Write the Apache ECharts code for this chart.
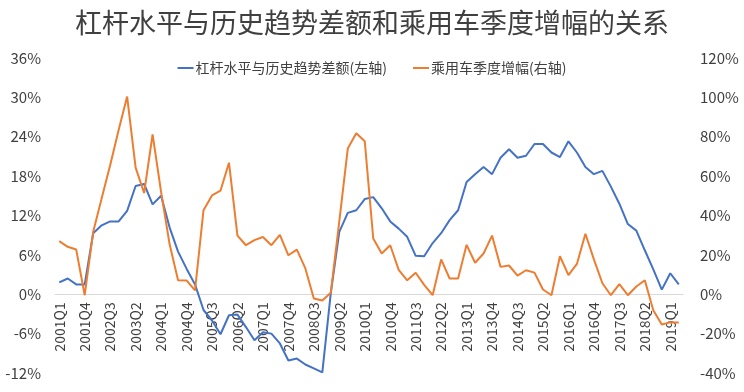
<!DOCTYPE html>
<html>
<head>
<meta charset="utf-8">
<script src="https://cdn.jsdelivr.net/npm/echarts@6/dist/echarts.min.js"></script>
<style>
html,body{margin:0;padding:0;background:#fff;}
#chart{width:744px;height:392px;}
</style>
</head>
<body>
<div id="chart"></div>
<script>
var years = [2001,2002,2003,2004,2005,2006,2007,2008,2009,2010,2011,2012,2013,2014,2015,2016,2017,2018,2019];
var quarters = ['Q1','Q2','Q3','Q4'];
var categories = [];
years.forEach(function(y){ quarters.forEach(function(q){ categories.push(y + q); }); });
categories = categories.slice(0, 74); // 2001Q1 .. 2019Q2

var leverageGap = [
  1.8, 2.4, 1.5, 1.5,
  9.3, 10.5, 11.1, 11.1,
  12.7, 16.5, 16.8, 13.7,
  15.0, 10.2, 6.5, 3.9,
  1.5, -2.4, -4.0, -6.1,
  -3.2, -3.1, -5.0, -7.0,
  -5.8, -6.0, -7.5, -10.1,
  -9.8, -10.7, -11.3, -11.9,
  0.2, 9.5, 12.4, 12.8,
  14.5, 14.8, 13.1, 11.1,
  10.0, 8.75, 5.85, 5.8,
  7.8, 9.3, 11.3, 12.8,
  17.1, 18.3, 19.4, 18.3,
  20.8, 22.1, 20.8, 21.1,
  22.9, 22.9, 21.6, 20.9,
  23.3, 21.6, 19.4, 18.3,
  18.8, 16.4, 13.8, 10.7,
  9.7, 6.7, 3.8, 0.7,
  3.2, 1.5
];

var carGrowth = [
  27.0, 24.1, 22.7, -0.5,
  31.7, 48.7, 65.5, 83.4,
  100.4, 64.3, 51.4, 81.2,
  52.0, 25.5, 7.1, 7.0,
  2.0, 42.7, 50.2, 52.6,
  66.8, 29.8, 24.9, 27.5,
  29.1, 24.9, 30.2, 19.8,
  22.7, 13.1, -2.2, -3.2,
  0.8, 37.0, 74.0, 81.8,
  77.7, 28.3, 20.7, 24.9,
  12.4, 7.1, 10.9, 4.8,
  -0.5, 17.7, 8.0, 8.0,
  25.1, 16.0, 20.7, 29.8,
  13.9, 14.6, 9.5, 12.2,
  11.0, 2.4, -0.5, 19.3,
  9.7, 15.4, 30.7, 17.7,
  5.6, -0.5, 5.1, -0.5,
  3.9, 7.1, -8.1, -15.4,
  -14.3, -14.3
];

var seriesNames = ['杠杆水平与历史趋势差额(左轴)', '乘用车季度增幅(右轴)'];
var titleText = '杠杆水平与历史趋势差额和乘用车季度增幅的关系';

var FONT = '"Noto Sans CJK SC", "Noto Sans", sans-serif';
var TXT = '#404040';

var GRID_TOP = 58, GRID_BOTTOM = 19, H = 392;
var LEFT_MIN = -12, LEFT_MAX = 36;
var plotH = H - GRID_TOP - GRID_BOTTOM;
var zeroOffset = -plotH * (0 - LEFT_MIN) / (LEFT_MAX - LEFT_MIN);

var chart = echarts.init(document.getElementById('chart'));
chart.setOption({
  animation: false,
  textStyle: { fontFamily: FONT },
  title: {
    text: titleText,
    left: 'center',
    top: 4,
    textStyle: { fontFamily: FONT, fontSize: 27, fontWeight: 'normal', color: TXT }
  },
  legend: {
    data: seriesNames,
    left: 'center',
    top: 56,
    icon: 'rect',
    itemWidth: 16,
    itemHeight: 2,
    itemGap: 26,
    textStyle: { fontFamily: FONT, fontSize: 14, color: TXT, padding: [0, 0, 0, -3] }
  },
  grid: { left: 55, right: 61, top: GRID_TOP, bottom: GRID_BOTTOM, containLabel: false, outerBoundsMode: 'none' },
  xAxis: {
    type: 'category',
    data: categories,
    boundaryGap: true,
    position: 'bottom',
    offset: zeroOffset,
    axisLine: { onZero: false, lineStyle: { color: '#D9D9D9', width: 1 } },
    axisTick: { show: false },
    axisLabel: {
      interval: 2,
      rotate: 90,
      margin: 8,
      fontSize: 14,
      color: TXT,
      fontFamily: FONT
    },
    splitLine: { show: false }
  },
  yAxis: [
    {
      type: 'value',
      min: LEFT_MIN, max: LEFT_MAX, interval: 6,
      axisLine: { show: false },
      axisTick: { show: false },
      splitLine: { show: false },
      axisLabel: { formatter: '{value}%', fontSize: 15, color: TXT, margin: 14, fontFamily: FONT }
    },
    {
      type: 'value',
      min: -40, max: 120, interval: 20,
      axisLine: { show: false },
      axisTick: { show: false },
      splitLine: { show: false },
      axisLabel: { formatter: '{value}%', fontSize: 15, color: TXT, margin: 17, fontFamily: FONT }
    }
  ],
  series: [
    {
      name: seriesNames[0],
      type: 'line',
      yAxisIndex: 0,
      data: leverageGap,
      showSymbol: false,
      symbol: 'none',
      lineStyle: { color: '#4472C4', width: 2 },
      itemStyle: { color: '#4472C4' }
    },
    {
      name: seriesNames[1],
      type: 'line',
      yAxisIndex: 1,
      data: carGrowth,
      showSymbol: false,
      symbol: 'none',
      lineStyle: { color: '#ED7D31', width: 2 },
      itemStyle: { color: '#ED7D31' }
    }
  ]
});
</script>
</body>
</html>
